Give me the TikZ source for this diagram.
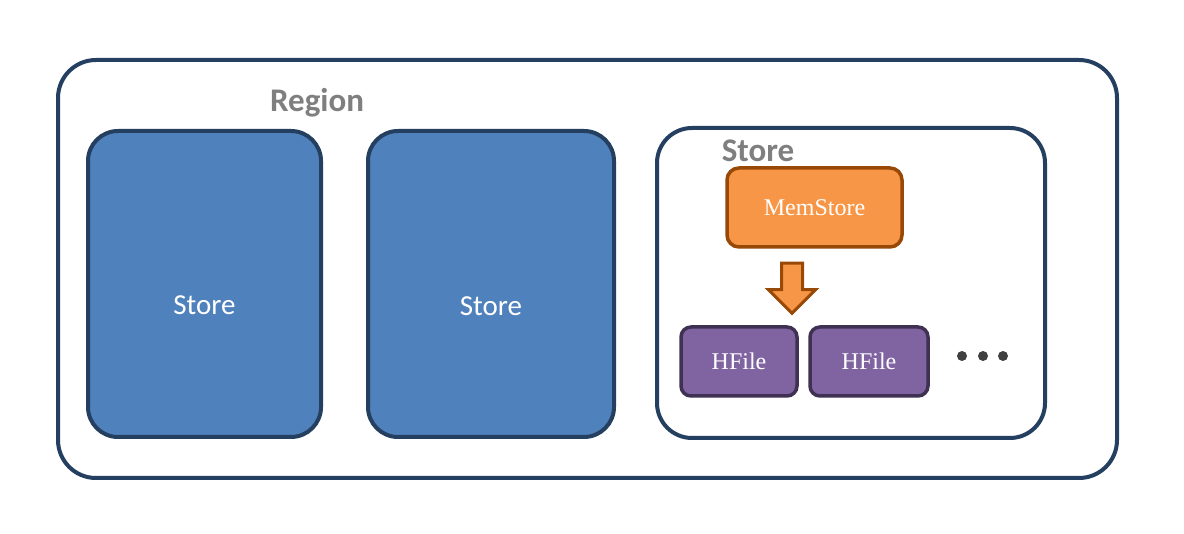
\documentclass[tikz,border=0pt]{standalone}
\usepackage{fontspec}
\setsansfont{Carlito}
\setmainfont{Liberation Serif}
\usetikzlibrary{shapes.arrows}
\definecolor{navy}{HTML}{243F60}
\definecolor{storeblue}{HTML}{4F81BD}
\definecolor{memorange}{HTML}{F79646}
\definecolor{memborder}{HTML}{984807}
\definecolor{hfpurple}{HTML}{8064A2}
\definecolor{hfborder}{HTML}{3F3151}
\definecolor{labelgray}{HTML}{7F7F7F}
\tikzset{
    raw box/.style={rectangle, draw, line width=4pt, align=center, inner sep=0pt},
    region box/.style={raw box, navy, fill=white, rounded corners=38pt},
    store box/.style={raw box, draw=navy, fill=storeblue, rounded corners=30pt},
    store text/.style={text=white, font=\sffamily\fontsize{29}{34}\selectfont, inner sep=0pt},
    store frame/.style={raw box, navy, fill=white, rounded corners=35pt},
    mem box/.style={raw box, line width=3.5pt, draw=memborder, fill=memorange, text=white,
        rounded corners=12pt, font=\rmfamily\fontsize{24}{28}\selectfont},
    hfile box/.style={raw box, line width=3.5pt, draw=hfborder, fill=hfpurple, text=white,
        rounded corners=10pt, font=\rmfamily\fontsize{24}{28}\selectfont},
    title label/.style={text=labelgray, font=\sffamily\bfseries\fontsize{33}{38}\selectfont, inner sep=0pt},
    flush arrow/.style={single arrow, draw=memborder, fill=memorange, line width=3pt,
        shape border rotate=270, minimum height=50pt, minimum width=46pt,
        single arrow head extend=13pt, inner sep=9pt},
    more dot/.style={circle, fill=black!75, minimum size=10pt, inner sep=0pt}
}
\begin{document}
\begin{tikzpicture}[x=1pt, y=-1pt]
    \useasboundingbox (0,0) rectangle (1184,534);
    % region with its stores
    \node[region box, minimum width=1059pt, minimum height=418pt] (region) at (587.5,269) {};
    \node[title label] (regionlabel) at (317,103) {Region};
    \node[store box, minimum width=233pt, minimum height=306pt,
        label={[store text, yshift=-21pt]center:Store}] (store1) at (204.5,284) {};
    \node[store box, minimum width=246pt, minimum height=306pt,
        label={[store text, yshift=-22pt]center:Store}] (store2) at (491,284) {};
    % the opened store
    \node[store frame, minimum width=388pt, minimum height=310pt] (store3) at (851,283) {};
    \node[title label] (storelabel) at (758,151) {Store};
    \node[mem box, minimum width=175pt, minimum height=79pt] (memstore) at (814.5,207.5) {MemStore};
    \node[flush arrow] (flush) at (792,283) {};
    \node[hfile box, minimum width=116pt, minimum height=69pt] (hfile1) at (739,361.5) {HFile};
    \node[hfile box, minimum width=118pt, minimum height=69pt] (hfile2) at (869,361.5) {HFile};
    \foreach \i/\x in {1/962, 2/983, 3/1003}
        \node[more dot] (dot\i) at (\x,356) {};
\end{tikzpicture}
\end{document}
